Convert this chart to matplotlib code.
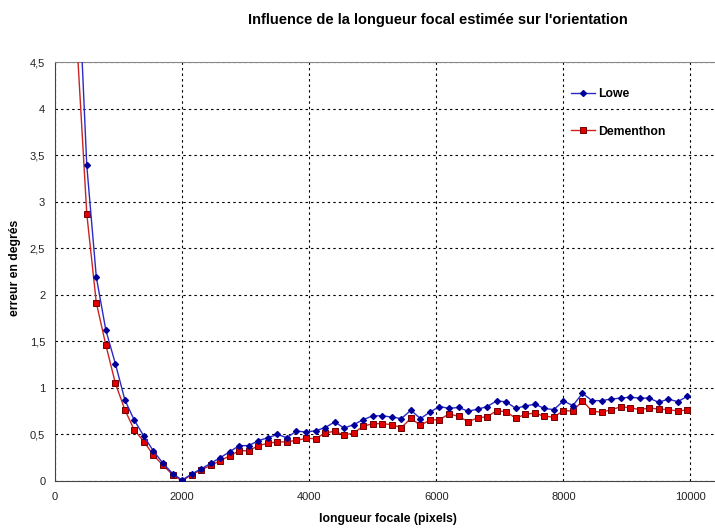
import numpy as np
import matplotlib
matplotlib.use('Agg')
import matplotlib.pyplot as plt
from matplotlib.ticker import FuncFormatter, MultipleLocator

plt.rcParams['font.family'] = ['Liberation Sans', 'DejaVu Sans']

# focal lengths (pixels), one measure every 150 px
focal = np.arange(350, 10000, 150)

lowe = [5.7, 3.39, 2.19, 1.62, 1.26, 0.87, 0.65, 0.48, 0.32, 0.19, 0.08, 0.01,
        0.075, 0.13, 0.19, 0.25, 0.315, 0.38, 0.38, 0.433, 0.465, 0.50, 0.465,
        0.537, 0.525, 0.54, 0.573, 0.634, 0.569, 0.605, 0.659, 0.70, 0.70,
        0.687, 0.67, 0.76, 0.67, 0.74, 0.80, 0.78, 0.79, 0.75, 0.77, 0.80,
        0.86, 0.85, 0.78, 0.806, 0.824, 0.78, 0.766, 0.86, 0.81, 0.942, 0.863,
        0.863, 0.88, 0.89, 0.90, 0.89, 0.89, 0.845, 0.88, 0.852, 0.91]

dementhon = [4.65, 2.87, 1.915, 1.46, 1.05, 0.763, 0.545, 0.423, 0.276, 0.169,
             0.068, 0.0, 0.068, 0.12, 0.168, 0.218, 0.27, 0.325, 0.325, 0.38,
             0.405, 0.42, 0.42, 0.437, 0.458, 0.455, 0.516, 0.534, 0.494,
             0.516, 0.588, 0.616, 0.616, 0.605, 0.573, 0.673, 0.598, 0.655,
             0.659, 0.72, 0.695, 0.637, 0.677, 0.69, 0.755, 0.745, 0.673,
             0.716, 0.73, 0.695, 0.687, 0.755, 0.752, 0.86, 0.752, 0.738,
             0.766, 0.795, 0.788, 0.766, 0.784, 0.773, 0.766, 0.752, 0.763]

fig = plt.figure(figsize=(7.15, 5.30), dpi=100)
ax = fig.add_axes([55 / 715, 49 / 530, 660 / 715, 419 / 530])

ax.plot(focal, lowe, color='#2a2ac8', lw=1, marker='D', ms=3.0,
        mfc='#000099', mec='#000099', label='Lowe', zorder=4)
ax.plot(focal, dementhon, color='#cc2222', lw=1, marker='s', ms=3.8,
        mfc='#e00000', mec='#700000', mew=0.7, label='Dementhon', zorder=3)

ax.set_xlim(0, 10386)
ax.set_ylim(0, 4.5)
ax.xaxis.set_major_locator(MultipleLocator(2000))
ax.yaxis.set_major_locator(MultipleLocator(0.5))
ax.yaxis.set_major_formatter(FuncFormatter(lambda v, p: f'{v:g}'.replace('.', ',')))
ax.tick_params(length=0, labelsize=8, labelcolor='#222222')
ax.tick_params(axis='x', pad=8)
ax.tick_params(axis='y', pad=7)

ax.grid(True, color='black', linestyle=(0, (2.2, 2.8)), linewidth=0.8)
ax.set_axisbelow(True)
for s in ['left', 'bottom']:
    ax.spines[s].set_color('#444444')
ax.spines['top'].set_color('#888888')
ax.spines['right'].set_visible(False)

fig.text(438 / 715, 1 - 20 / 530, "Influence de la longueur focal estimée sur l'orientation",
         ha='center', va='center', fontsize=10.5, fontweight='bold')
fig.text(388 / 715, 1 - 519 / 530, 'longueur focale (pixels)',
         ha='center', va='center', fontsize=8.8, fontweight='bold')
fig.text(15 / 715, 1 - 268 / 530, 'erreur en degrés', rotation=90,
         ha='center', va='center', fontsize=8.8, fontweight='bold')

ax.legend(loc='upper left', bbox_to_anchor=(560 / 715, 1 - 77 / 530),
          bbox_transform=fig.transFigure, frameon=False,
          prop={'weight': 'bold', 'size': 8.8}, labelspacing=2.1,
          handlelength=2.0, handletextpad=0.25)

fig.savefig('out.png', dpi=100)
